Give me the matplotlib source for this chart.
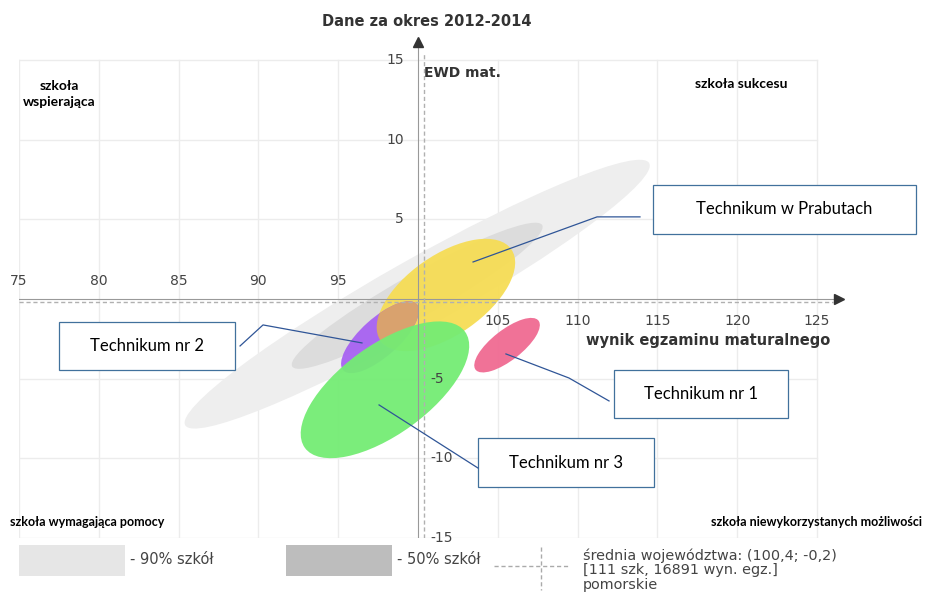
import matplotlib
matplotlib.use("Agg")
import matplotlib.pyplot as plt
from matplotlib.patches import Ellipse, Rectangle

# ----------------------------
# dane
# ----------------------------
x_ticks_left = [75, 80, 85, 90, 95]
x_ticks_right = [105, 110, 115, 120, 125]
y_ticks_pos = [5, 10, 15]
y_ticks_neg = [-5, -10, -15]

avg_x, avg_y = 100.4, -0.2

# elipsy: środek x, środek y, szerokość, wysokość, kąt
band_names = ["90% szkół", "50% szkół"]
band_cx = [99.95, 99.95]
band_cy = [0.3, 0.2]
band_w = [33.4, 18.0]
band_h = [4.3, 2.7]
band_ang = [29.5, 29.5]
band_colors = ["#eeeeee", "#dcdcdc"]

school_names = ["Technikum w Prabutach", "Technikum nr 2", "Technikum nr 3", "Technikum nr 1"]
school_cx = [101.75, 97.62, 97.93, 105.58]
school_cy = [0.25, -2.4, -5.7, -2.9]
school_w = [10.0, 6.2, 12.4, 5.0]
school_h = [5.0, 2.4, 5.6, 1.9]
school_ang = [35, 42, 36, 38]
school_colors = ["#f6dd55", "#a862f2", "#74ec74", "#f06a92"]

# ramki z opisami (x0, y0, szer., wys.) i linie odnośników
box_rects = [(114.72, 4.1, 16.48, 3.05), (77.51, -4.46, 11.02, 3.02),
             (103.76, -11.8, 11.03, 3.07), (112.28, -7.47, 10.9, 3.01)]
leader_x = [[103.45, 111.22, 113.91], [96.49, 90.29, 88.85],
            [97.56, 103.76], [105.51, 109.46, 111.97]]
leader_y = [[2.32, 5.15, 5.15], [-2.76, -1.63, -2.95],
            [-6.65, -10.61], [-3.45, -4.96, -6.40]]

# ----------------------------
# wykres
# ----------------------------
fig = plt.figure(figsize=(9.27, 5.93), dpi=100)
ax = fig.add_axes([19 / 927, 1 - 538 / 593, 824 / 927, 502 / 593])
ax.set_xlim(75, 126.63)
ax.set_ylim(-15, 16.5)
ax.axis("off")

grid_c = "#ececec"
for gx in x_ticks_left + x_ticks_right:
    ax.plot([gx, gx], [-15, 15], color=grid_c, lw=1, zorder=0)
for gy in y_ticks_pos + y_ticks_neg:
    ax.plot([75, 125], [gy, gy], color=grid_c, lw=1, zorder=0)

for i in range(len(band_names)):
    ax.add_patch(Ellipse((band_cx[i], band_cy[i]), band_w[i], band_h[i],
                         angle=band_ang[i], facecolor=band_colors[i],
                         edgecolor="none", zorder=1))

patches = []
for i in range(len(school_names)):
    e = Ellipse((school_cx[i], school_cy[i]), school_w[i], school_h[i],
                angle=school_ang[i], facecolor=school_colors[i],
                edgecolor="none", alpha=0.95, zorder=2 + i)
    ax.add_patch(e)
    patches.append(e)
# część wspólna nr 2 i Prabuty
ov = Ellipse((school_cx[1], school_cy[1]), school_w[1], school_h[1],
             angle=school_ang[1], facecolor="#d9a26e", edgecolor="none", zorder=3.5)
ax.add_patch(ov)
ov.set_clip_path(patches[0])
patches[0].set_zorder(1.5)

# osie
ax.plot([75, 126], [0, 0], color="#999999", lw=0.8, zorder=6)
ax.plot([100, 100], [-15, 16], color="#999999", lw=0.8, zorder=6)
ax.plot([75, 126], [avg_y, avg_y], color="#b0b0b0", lw=1, ls=(0, (3, 2)), zorder=6)
ax.plot([avg_x, avg_x], [-15, 15.5], color="#b0b0b0", lw=1, ls=(0, (3, 2)), zorder=6)
ax.plot([126.35], [0], marker=">", color="#333333", ms=7, clip_on=False, zorder=7)
ax.plot([100], [16.1], marker="^", color="#333333", ms=7, clip_on=False, zorder=7)

tick_kw = dict(fontsize=10, color="#444444", zorder=8)
for t in x_ticks_left:
    ax.text(t, 1.1, str(t), ha="center", va="center", **tick_kw)
for t in x_ticks_right:
    ax.text(t, -1.4, str(t), ha="center", va="center", **tick_kw)
for t in y_ticks_pos:
    ax.text(99.1, t, str(t), ha="right", va="center", **tick_kw)
for t in y_ticks_neg:
    ax.text(100.8, t, str(t), ha="left", va="center", **tick_kw)

ax.text(100.4, 14.2, "EWD mat.", fontsize=10, fontweight="bold", color="#333333",
        ha="left", va="center", zorder=8)
ax.text(125.8, -2.6, "wynik egzaminu maturalnego", fontsize=10.5, fontweight="bold",
        color="#333333", ha="right", va="center", zorder=8)
fig.text(427 / 927, 1 - 22 / 593, "Dane za okres 2012-2014", fontsize=10.5,
         fontweight="bold", color="#333333", ha="center", va="center")

# opisy ćwiartek
corner_kw = dict(family="Lato", fontweight="bold", color="black")
fig.text(59 / 927, 1 - 94 / 593, "szkoła\nwspierająca", ha="center", va="center",
         fontsize=10, linespacing=1.4, **corner_kw)
fig.text(741 / 927, 1 - 84 / 593, "szkoła sukcesu", ha="center", va="center",
         fontsize=10, **corner_kw)
fig.text(10 / 927, 1 - 522 / 593, "szkoła wymagająca pomocy", ha="left", va="center",
         fontsize=9, **corner_kw)
fig.text(922 / 927, 1 - 522 / 593, "szkoła niewykorzystanych możliwości", ha="right",
         va="center", fontsize=9, **corner_kw)

# ramki z nazwami szkół
for i, name in enumerate(school_names):
    x0, y0, w, h = box_rects[i]
    ax.add_patch(Rectangle((x0, y0), w, h, facecolor="white", edgecolor="#41719c",
                           lw=0.9, clip_on=False, zorder=9))
    ax.text(x0 + w / 2, y0 + h / 2, name, family="Lato", fontsize=12,
            ha="center", va="center", clip_on=False, zorder=10)
    ax.plot(leader_x[i], leader_y[i], color="#2f5597", lw=0.9, zorder=9)

# legenda
fig.patches.append(Rectangle((19 / 927, 1 - 576 / 593), 106 / 927, 31 / 593,
                             transform=fig.transFigure, facecolor="#e6e6e6",
                             edgecolor="none"))
fig.patches.append(Rectangle((286 / 927, 1 - 576 / 593), 106 / 927, 31 / 593,
                             transform=fig.transFigure, facecolor="#bdbdbd",
                             edgecolor="none"))
leg_kw = dict(fontsize=10.5, color="#444444", va="center", ha="left")
fig.text(130 / 927, 1 - 560 / 593, "- " + band_names[0], **leg_kw)
fig.text(397 / 927, 1 - 560 / 593, "- " + band_names[1], **leg_kw)
fig.lines.append(plt.Line2D([494 / 927, 568 / 927], [1 - 566 / 593, 1 - 566 / 593],
                            transform=fig.transFigure, color="#aaaaaa", lw=1, ls=(0, (3, 2))))
fig.lines.append(plt.Line2D([541 / 927, 541 / 927], [1 - 547 / 593, 1 - 590 / 593],
                            transform=fig.transFigure, color="#aaaaaa", lw=1, ls=(0, (3, 2))))
fig.text(583 / 927, 1 - 570 / 593,
         "średnia województwa: (100,4; -0,2)\n[111 szk, 16891 wyn. egz.]\npomorskie",
         fontsize=10.4, color="#444444", va="center", ha="left", linespacing=1.05)

fig.savefig("out.png", dpi=100)
